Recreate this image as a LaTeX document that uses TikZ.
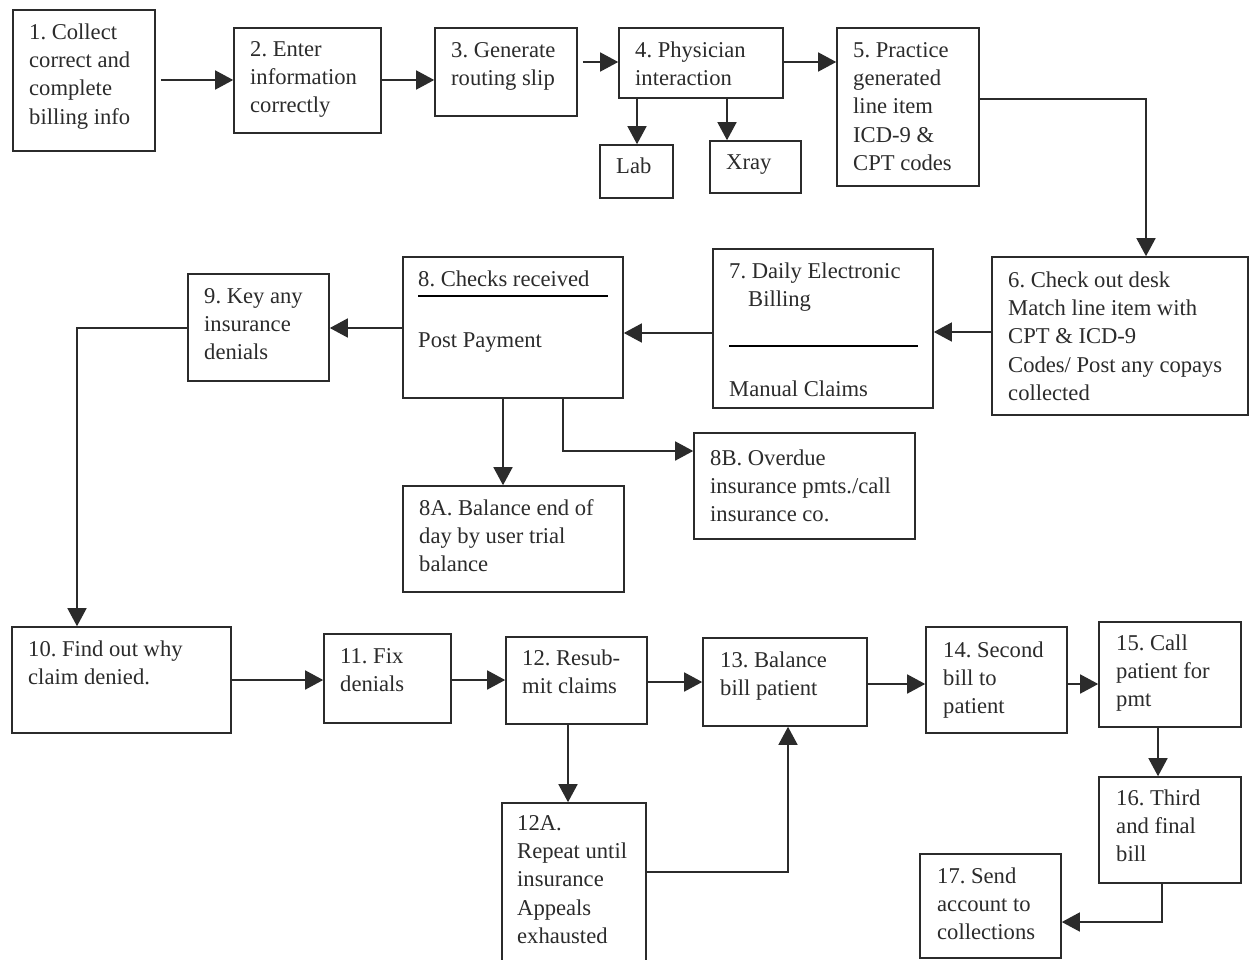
\documentclass[tikz,border=0pt]{standalone}
\usepackage{fontspec}
\setmainfont{Liberation Serif}
\usetikzlibrary{arrows.meta}
\definecolor{ink}{HTML}{2B2B2B}
\frenchspacing
\tikzset{
  bx/.style={draw=ink, line width=1.6pt, inner sep=0pt, fill=white},
  txt/.style={inner sep=0pt, anchor=north west, align=left, text=ink,
    font=\fontsize{22.6}{28.4}\selectfont},
  conn/.style={draw=ink, line width=1.5pt},
  arr/.style={conn, -{Triangle[length=18pt,width=19pt]}},
  sep/.style={draw=black, line width=2.8pt},
}
% box: name, x1, y1, x2, y2
\newcommand{\Bx}[5]{\node[bx, minimum width={(#4-#2)*1pt}, minimum height={(#5-#3)*1pt}] (#1) at ({(#2+#4)/2},{(#3+#5)/2}) {};}
% text: name, x, first baseline, text
\newcommand{\Tx}[4]{\node[txt] (#1) at (#2,{#3-19.9}) {\strut #4};}
\begin{document}
\begin{tikzpicture}[x=1pt,y=-1pt]
\clip (0,0) rectangle (1249,960);
\fill[white] (0,0) rectangle (1249,960);

% boxes
\Bx{b1}{13}{10}{155}{151}
\Bx{b2}{234}{28}{381}{133}
\Bx{b3}{435}{28}{577}{116}
\Bx{b4}{619}{28}{783}{98}
\Bx{lab}{600}{145}{673}{198}
\Bx{xray}{710}{141}{801}{193}
\Bx{b5}{837}{28}{979}{186}
\Bx{b6}{992}{257}{1248}{415}
\Bx{b7}{713}{249}{933}{408}
\Bx{b8}{403}{257}{623}{398}
\Bx{b9}{188}{274}{329}{381}
\Bx{b8a}{403}{486}{624}{592}
\Bx{b8b}{694}{433}{915}{539}
\Bx{b10}{12}{627}{231}{733}
\Bx{b11}{324}{634}{451}{723}
\Bx{b12}{506}{637}{647}{724}
\Bx{b12a}{502}{803}{646}{990}
\Bx{b13}{703}{638}{867}{726}
\Bx{b14}{926}{627}{1067}{733}
\Bx{b15}{1099}{622}{1241}{727}
\Bx{b16}{1099}{777}{1241}{883}
\Bx{b17}{920}{854}{1061}{958}

% separator lines inside boxes 8 and 7
\draw[sep] (418,296) -- (608,296);
\draw[sep] (729,346) -- (918,346);

% texts
\Tx{t1}{29}{39}{1. Collect\\correct and\\complete\\billing info}
\Tx{t2}{250}{56}{2. Enter\\information\\correctly}
\Tx{t3}{451}{57}{3. Generate\\routing slip}
\Tx{t4}{635}{57}{4. Physician\\interaction}
\Tx{tlab}{616}{173}{Lab}
\Tx{txray}{726}{169}{Xray}
\Tx{t5}{853}{57}{5. Practice\\generated\\line item\\ICD-9 \&\\CPT codes}
\Tx{t6}{1008}{287}{6. Check out desk\\Match line item with\\CPT \& ICD-9\\Codes/ Post any copays\\collected}
\Tx{t7a}{729}{278}{7. Daily Electronic\\\hspace*{19pt}Billing}
\Tx{t7b}{729}{396}{Manual Claims}
\Tx{t8a}{418}{286}{8. Checks received}
\Tx{t8b}{418}{347}{Post Payment}
\Tx{t9}{204}{303}{9. Key any\\insurance\\denials}
\Tx{t8A}{419}{515}{8A. Balance end of\\day by user trial\\balance}
\Tx{t8B}{710}{465}{8B. Overdue\\insurance pmts./call\\insurance co.}
\Tx{t10}{28}{656}{10. Find out why\\claim denied.}
\Tx{t11}{340}{663}{11. Fix\\denials}
\Tx{t12}{522}{665}{12. Resub-\\mit claims}
\Tx{t12a}{517}{830}{12A.\\Repeat until\\insurance\\Appeals\\exhausted}
\Tx{t13}{720}{667}{13. Balance\\bill patient}
\Tx{t14}{943}{657}{14. Second\\bill to\\patient}
\Tx{t15}{1116}{650}{15. Call\\patient for\\pmt}
\Tx{t16}{1116}{805}{16. Third\\and final\\bill}
\Tx{t17}{937}{883}{17. Send\\account to\\collections}

% connectors
\draw[arr, shorten <=5pt] (b1.east |- 0,80) -- (b2.west |- 0,80);
\draw[arr] (b2.east |- 0,80) -- (b3.west |- 0,80);
\draw[arr, shorten <=5pt] (b3.east |- 0,62) -- (b4.west |- 0,62);
\draw[arr] (b4.east |- 0,62) -- (b5.west |- 0,62);
\draw[arr] (b4.south -| 637,0) -- (lab.north -| 637,0);
\draw[arr] (b4.south -| 727,0) -- (xray.north -| 727,0);
\draw[arr] (b5.east |- 0,99) -| (b6.north -| 1146,0);
\draw[arr] (b6.west |- 0,332) -- (b7.east |- 0,332);
\draw[arr] (b7.west |- 0,333) -- (b8.east |- 0,333);
\draw[arr] (b8.west |- 0,328) -- (b9.east |- 0,328);
\draw[arr] (b9.west |- 0,328) -| (b10.north -| 77,0);
\draw[arr] (b8.south -| 503,0) -- (b8a.north -| 503,0);
\draw[arr] (b8.south -| 563,0) |- (b8b.west |- 0,451);
\draw[arr] (b10.east |- 0,680) -- (b11.west |- 0,680);
\draw[arr] (b11.east |- 0,680) -- (b12.west |- 0,680);
\draw[arr] (b12.east |- 0,682) -- (b13.west |- 0,682);
\draw[arr] (b12.south -| 568,0) -- (b12a.north -| 568,0);
\draw[arr] (b12a.east |- 0,872) -| (b13.south -| 788,0);
\draw[arr] (b13.east |- 0,684) -- (b14.west |- 0,684);
\draw[arr] (b14.east |- 0,684) -- (b15.west |- 0,684);
\draw[arr] (b15.south -| 1158,0) -- (b16.north -| 1158,0);
\draw[arr] (b16.south -| 1162,0) |- (b17.east |- 0,922);
\end{tikzpicture}
\end{document}
